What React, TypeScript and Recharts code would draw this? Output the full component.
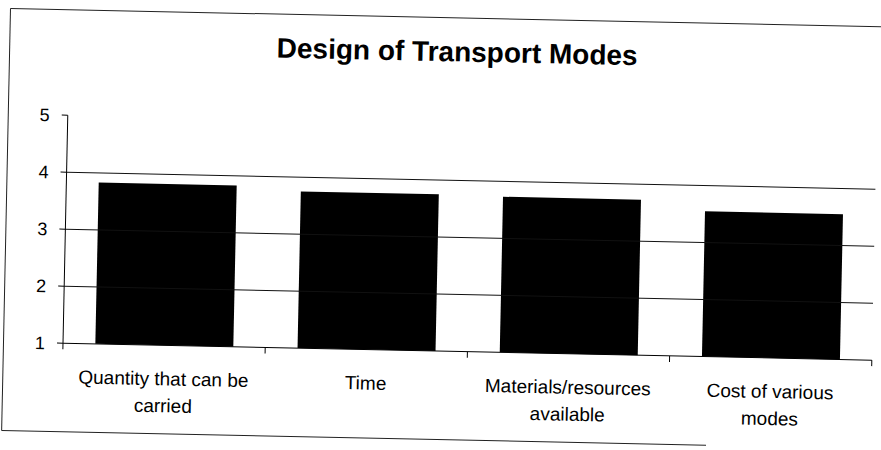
import { BarChart, Bar, XAxis, YAxis, ReferenceLine } from "recharts";

const categories = [
  "Quantity that can be carried",
  "Time",
  "Materials/resources available",
  "Cost of various modes",
];
const labelLines = [
  ["Quantity that can be", "carried"],
  ["Time"],
  ["Materials/resources", "available"],
  ["Cost of various", "modes"],
];
const scores = [3.83, 3.75, 3.73, 3.55];
const yTicks = [1, 2, 3, 4, 5];
const gridValues = [2, 3, 4];

const data = categories.map((c, i) => ({ name: c, score: scores[i] }));

const W = 881;
const H = 450;
const CHART_W = 940;
const PLOT_LEFT = 70;
const PLOT_RIGHT = CHART_W - 879;
const band = (CHART_W - PLOT_LEFT - PLOT_RIGHT) / categories.length;
const font = '"Liberation Sans", Arial, sans-serif';

function CatTick(props: any) {
  const { x, y, index } = props;
  const lines = labelLines[index] || [];
  return (
    <g>
      <line x1={x - band / 2} y1={y} x2={x - band / 2} y2={y + 6} stroke="#000" />
      {index === categories.length - 1 && (
        <line x1={x + band / 2} y1={y} x2={x + band / 2} y2={y + 6} stroke="#000" />
      )}
      <text x={x} y={y + 40} textAnchor="middle" fontSize={19} fontFamily={font} fill="#000">
        {lines.map((l, i) => (
          <tspan key={i} x={x} dy={i === 0 ? 0 : 27}>
            {l}
          </tspan>
        ))}
      </text>
    </g>
  );
}

export default function App() {
  return (
    <div
      style={{
        position: "absolute",
        left: 0,
        top: 0,
        width: W,
        height: H,
        overflow: "hidden",
        background: "#fff",
      }}
    >
      <div
        style={{
          position: "absolute",
          left: 0,
          top: 0,
          width: 1000,
          height: H + 40,
          transform: "rotate(1.2deg)",
          transformOrigin: "10px 8px",
        }}
      >
        <svg width={1000} height={H + 40} style={{ position: "absolute", left: 0, top: 0 }}>
          <line x1={10.5} y1={8.5} x2={990} y2={8.5} stroke="#222" />
          <line x1={10.5} y1={8.5} x2={10.5} y2={430.5} stroke="#222" />
          <line x1={10.5} y1={430.5} x2={715} y2={430.5} stroke="#222" />
          <text x={458} y={52} textAnchor="middle" fontSize={28} fontWeight="bold" fontFamily={font} fill="#000">
            Design of Transport Modes
          </text>
        </svg>
        <div style={{ position: "absolute", left: 0, top: 0 }}>
          <BarChart
            width={CHART_W}
            height={H}
            data={data}
            barCategoryGap="16%"
            margin={{ top: 114, right: PLOT_RIGHT, bottom: 48, left: 0 }}
          >
            {gridValues.map((v) => (
              <ReferenceLine key={v} y={v} stroke="#111" />
            ))}
            <XAxis
              dataKey="name"
              height={60}
              interval={0}
              tickLine={false}
              tickSize={0}
              tickMargin={0}
              axisLine={{ stroke: "#000" }}
              tick={<CatTick />}
            />
            <YAxis
              width={PLOT_LEFT}
              domain={[1, 5]}
              ticks={yTicks}
              interval={0}
              tickSize={6}
              tickMargin={12}
              axisLine={{ stroke: "#000" }}
              tickLine={{ stroke: "#000" }}
              tick={{ fill: "#000", fontSize: 18, fontFamily: font }}
            />
            <Bar dataKey="score" fill="#000" isAnimationActive={false} />
          </BarChart>
        </div>
      </div>
    </div>
  );
}
